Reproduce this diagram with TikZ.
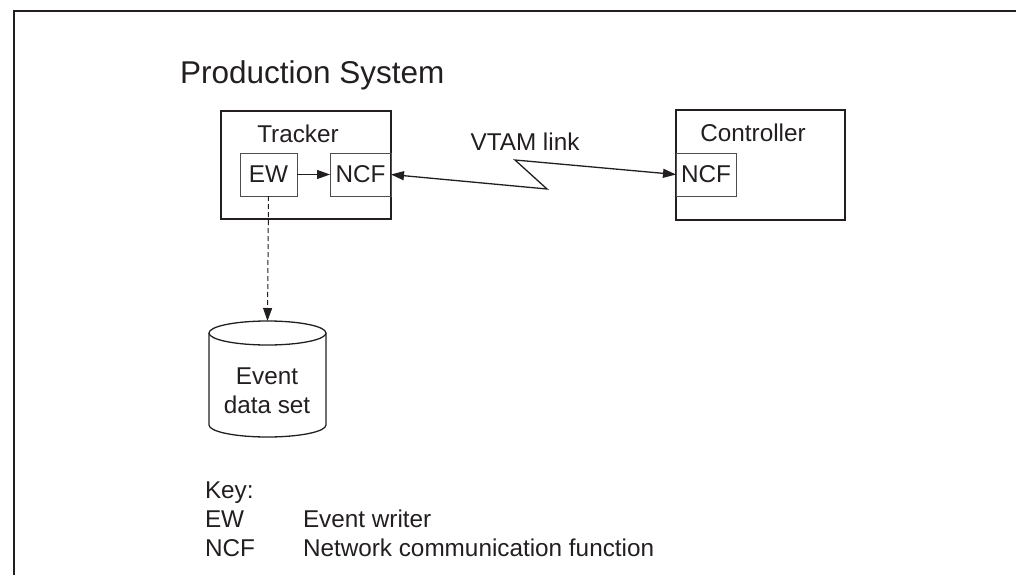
\documentclass[tikz,border=0pt]{standalone}
\usepackage{fontspec}
\setmainfont{Liberation Sans}
\usetikzlibrary{arrows.meta}
\definecolor{ink}{HTML}{231F20}
\begin{document}
\begin{tikzpicture}[x=1pt,y=-1pt,
  every node/.style={text=ink, outer sep=0pt},
  lbl/.style={inner sep=0pt, font=\fontsize{24.3}{28.5}\selectfont},
  ttl/.style={inner sep=0pt, font=\fontsize{31.5}{37}\selectfont},
  bigbox/.style={draw=ink, line width=1.6pt, minimum width=170pt, minimum height=108pt, inner sep=0pt},
  smallbox/.style={draw=ink!80, line width=0.8pt, minimum height=43pt, inner sep=0pt, font=\fontsize{24.3}{28.5}\selectfont},
  tip/.style={-{Triangle[length=13pt,width=9pt]}},
  conn/.style={draw=ink, line width=1pt},
  link/.style={draw=ink, line width=1.3pt, {Triangle[length=13pt,width=9pt]}-{Triangle[length=13pt,width=9pt]}},
  cylline/.style={draw=ink, line width=1.3pt}
]
\useasboundingbox (0,0) rectangle (1016,575);
% outer frame
\draw[ink, line width=1.6pt] (1016,11) -- (14,11) -- (14,575);
% title
\node[ttl, anchor=base west] (title) at (180,84) {Production System};
% tracker
\node[bigbox] (tracker) at (306,165) {};
\node[lbl] (trackerlbl) at (298,134) {Tracker};
\node[smallbox, minimum width=57pt] (ew) at (268.5,174.5) {EW};
\node[smallbox, minimum width=61pt] (ncf1) at (360.5,174.5) {NCF};
% controller
\node[bigbox, minimum width=169pt, minimum height=110pt] (controller) at (760.5,165) {};
\node[lbl] (controllerlbl) at (753,133) {Controller};
\node[smallbox, minimum width=60pt] (ncf2) at (706,174.5) {NCF};
% link
\node[lbl] (vtam) at (525,142) {VTAM link};
\draw[conn, tip] (ew) -- (ncf1);
\path[link] (ncf1.east) -- (547,189) -- (515,160) -- (ncf2.west);
% cylinder
\node[minimum width=117pt, minimum height=116pt, inner sep=0pt] (cyl) at (267.5,379) {};
\draw[cylline] (cyl.north west) ++(0,12) -- ([yshift=12pt]cyl.south west)
  arc[start angle=180, end angle=360, x radius=58.5pt, y radius=12pt] -- ([yshift=-12pt]cyl.north east);
\draw[cylline] ([yshift=-12pt]cyl.north) ellipse [x radius=58.5pt, y radius=12pt];
\node[lbl, align=center] (cyltext) at (267,391) {Event\\data set};
\draw[conn, tip, dash pattern=on 5pt off 3pt] (ew.south) -- (cyl.north);
% key
\node[lbl, anchor=base west] (key) at (205,498) {Key:};
\node[lbl, anchor=base west] (k1) at (205,527) {EW};
\node[lbl, anchor=base west] (k1d) at (303,527) {Event writer};
\node[lbl, anchor=base west] (k2) at (205,556) {NCF};
\node[lbl, anchor=base west] (k2d) at (303,556) {Network communication function};
\end{tikzpicture}
\end{document}
